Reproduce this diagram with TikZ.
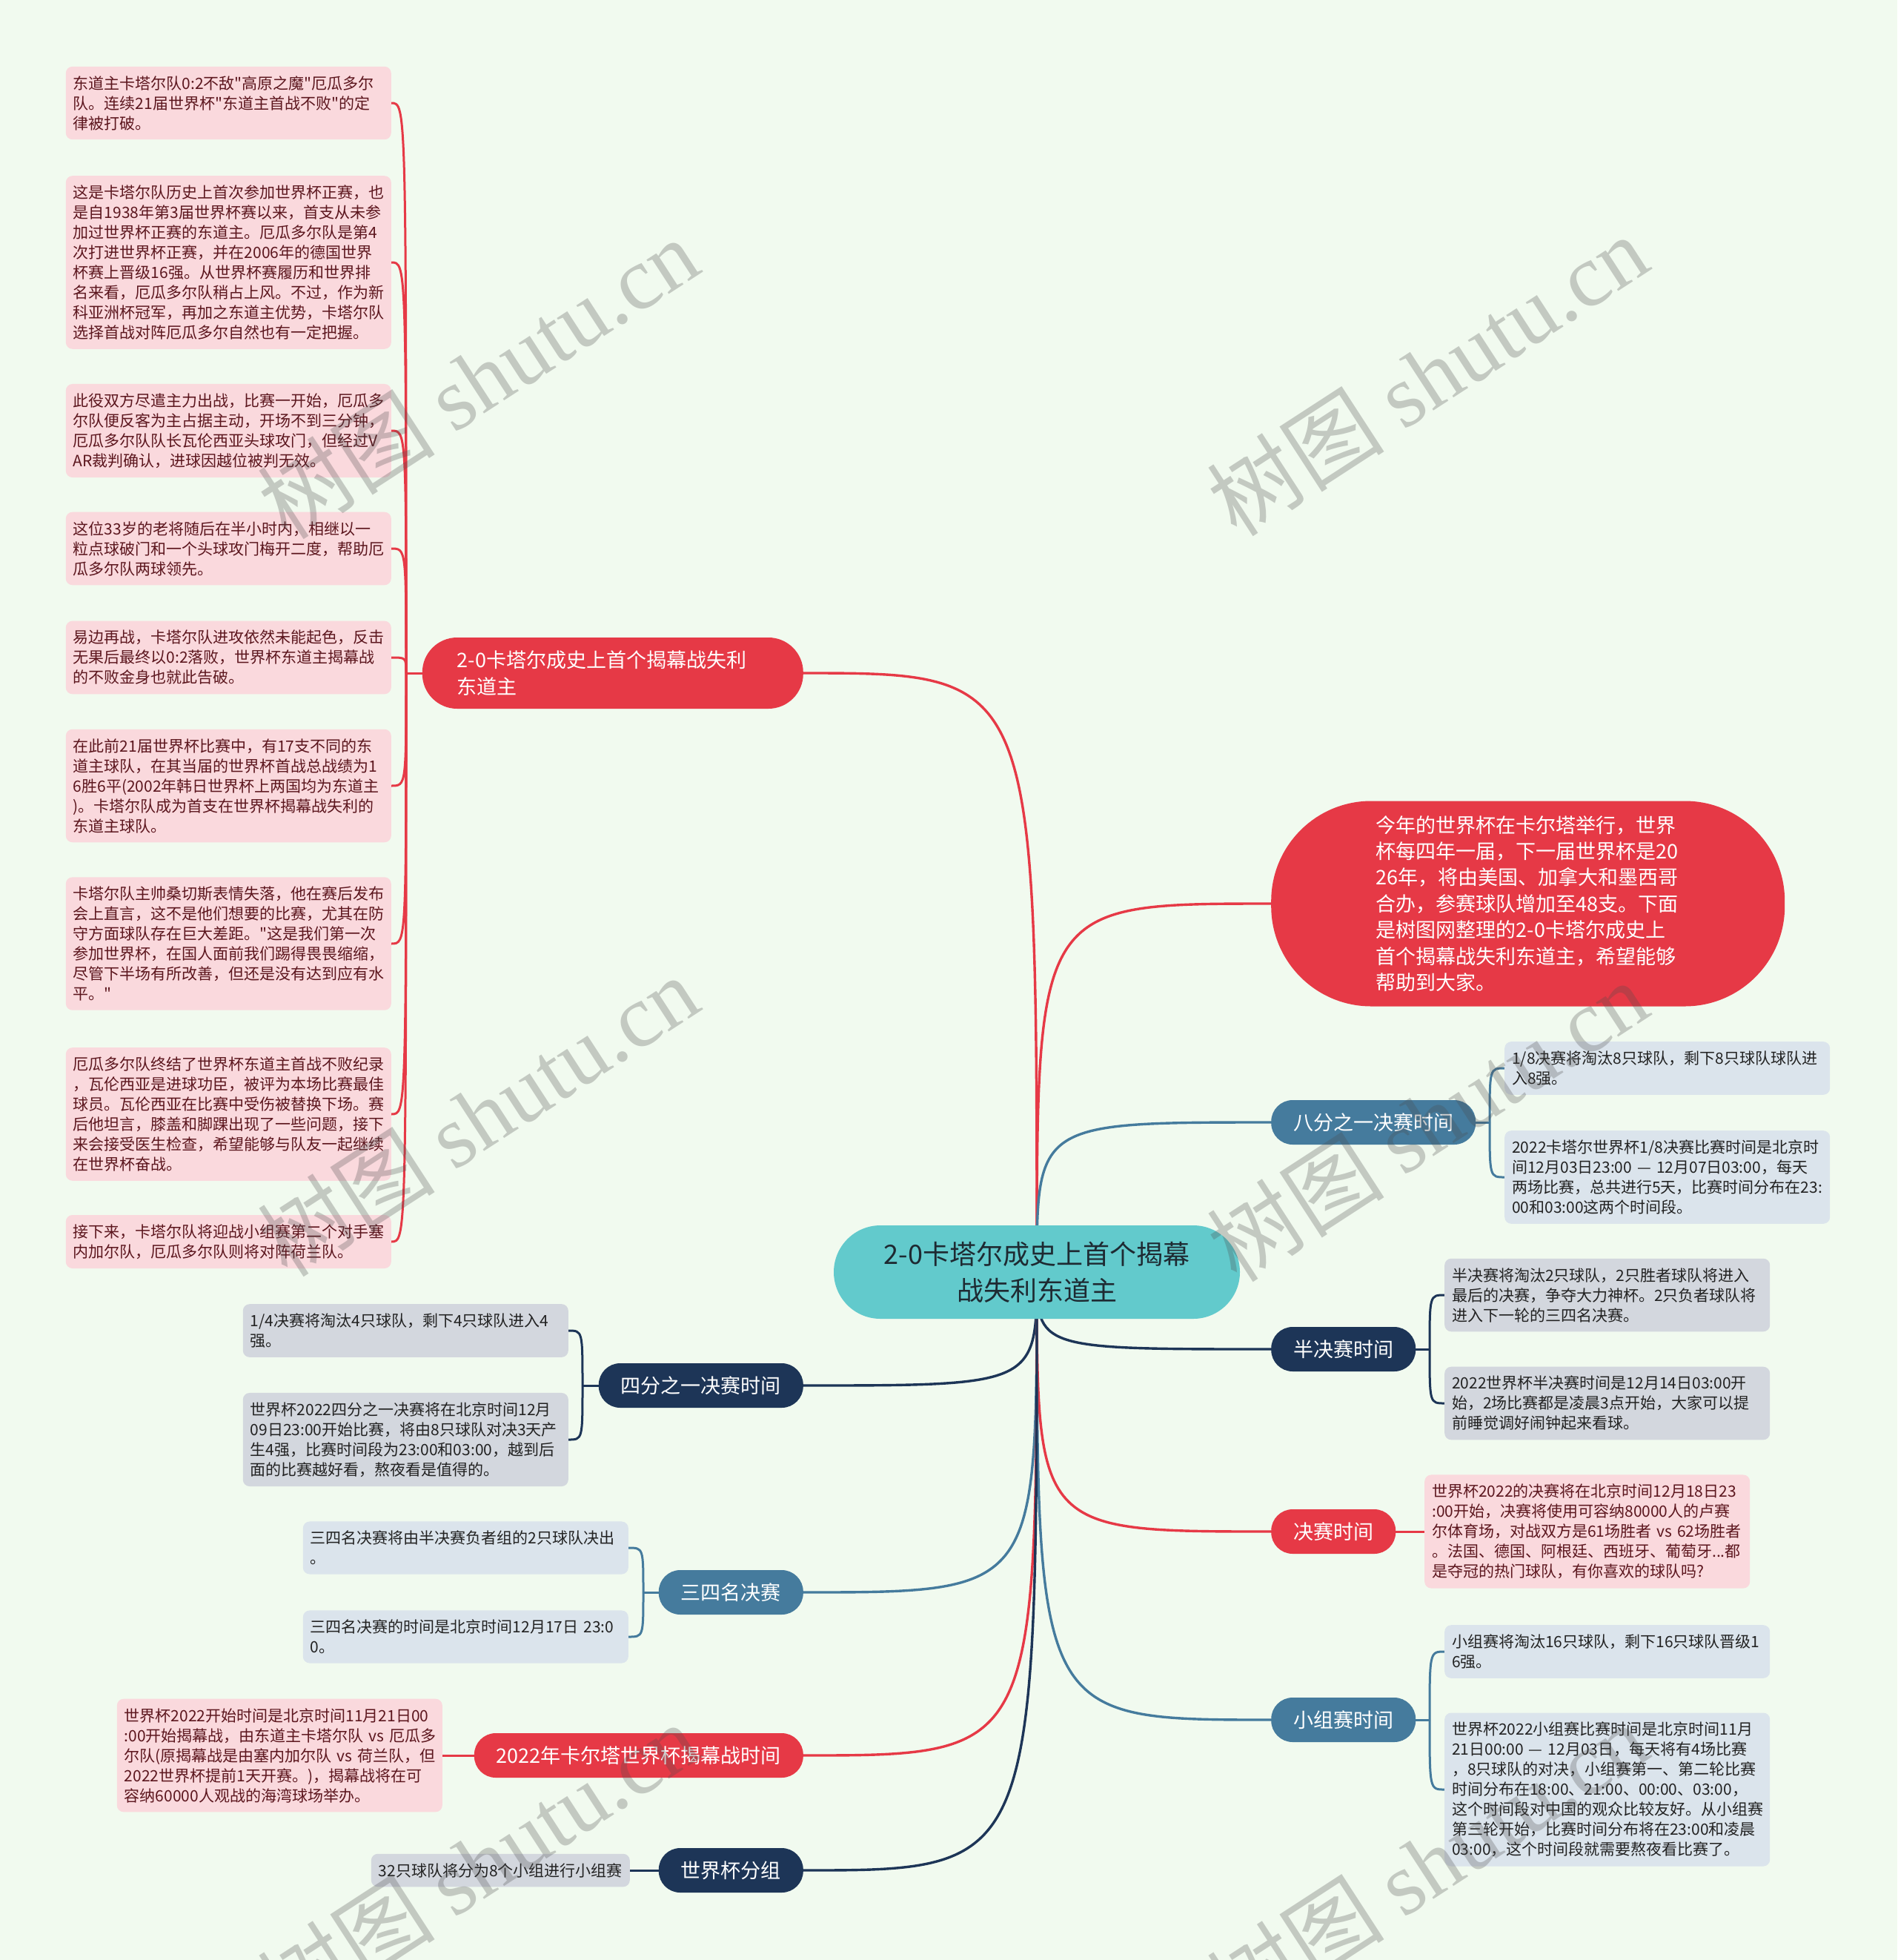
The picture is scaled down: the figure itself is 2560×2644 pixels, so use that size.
\documentclass[tikz,border=0pt]{standalone}
\usepackage{fontspec}
\setmainfont{Noto Sans CJK SC}[Ligatures=TeXOff]
\newfontfamily\wmcjk{Noto Sans CJK SC}
\newfontfamily\wmserif{Liberation Serif}
\usetikzlibrary{calc}
\definecolor{bgc}{RGB}{241,250,239}
\definecolor{cred}{RGB}{230,57,70}
\definecolor{csteel}{RGB}{69,123,157}
\definecolor{cnavy}{RGB}{29,53,87}
\definecolor{cteal}{RGB}{98,202,204}
\definecolor{fpink}{RGB}{250,217,221}
\definecolor{fgray}{RGB}{211,215,222}
\definecolor{fblue}{RGB}{219,228,236}
\definecolor{tpink}{RGB}{92,22,30}
\definecolor{tdark}{RGB}{34,34,34}
\definecolor{troot}{RGB}{30,42,50}
\pgfdeclarelayer{edges}
\pgfdeclarelayer{marks}
\pgfsetlayers{edges,main,marks}
\tikzset{
  leafbase/.style={rounded corners=9pt, inner xsep=10pt, inner ysep=12.5pt, align=left,
    font=\fontsize{21}{27}\selectfont},
  leaf/.style={leafbase, text width=419pt},
  leafpink/.style={leaf, fill=fpink, text=tpink},
  leafgray/.style={leaf, fill=fgray, text=tdark},
  leafblue/.style={leaf, fill=fblue, text=tdark},
  branch/.style={rounded corners=29pt, minimum height=60pt, inner xsep=30pt, inner ysep=0pt,
    text=white, font=\fontsize{27}{35}\selectfont},
  conn/.style={line width=3pt},
  mconn/.style={line width=3.4pt},
  wmark/.style={rotate=33, text=black!70, text opacity=0.28, font=\fontsize{120}{120}\selectfont},
}
\begin{document}
\begin{tikzpicture}[x=1pt,y=-1pt]
\useasboundingbox (0,0) rectangle (2560,2644);
% root
\node[fill=cteal, rounded corners=63pt, minimum height=126pt, minimum width=548pt, align=center,
  text=troot, font=\fontsize{36}{49}\selectfont] (root) at (1399,1716) {2-0卡塔尔成史上首个揭幕\\战失利东道主};
% branch 1
\node[fill=cred, rounded corners=47pt, minimum height=96pt, text width=420pt, inner xsep=47pt, inner ysep=0pt,
  align=left, text=white, font=\fontsize{27}{35.5}\selectfont, anchor=east] (b1) at (1084,908)
  {2-0卡塔尔成史上首个揭幕战失利\\东道主};
\node[leafpink, anchor=east] (l1) at (528,139) {东道主卡塔尔队0:2不敌"高原之魔"厄瓜多尔\\队。连续21届世界杯"东道主首战不败"的定\\律被打破。};
\node[leafpink, anchor=east] (l2) at (528,354) {这是卡塔尔队历史上首次参加世界杯正赛，也\\是自1938年第3届世界杯赛以来，首支从未参\\加过世界杯正赛的东道主。厄瓜多尔队是第4\\次打进世界杯正赛，并在2006年的德国世界\\杯赛上晋级16强。从世界杯赛履历和世界排\\名来看，厄瓜多尔队稍占上风。不过，作为新\\科亚洲杯冠军，再加之东道主优势，卡塔尔队\\选择首战对阵厄瓜多尔自然也有一定把握。};
\node[leafpink, anchor=east] (l3) at (528,581) {此役双方尽遣主力出战，比赛一开始，厄瓜多\\尔队便反客为主占据主动，开场不到三分钟，\\厄瓜多尔队队长瓦伦西亚头球攻门，但经过V\\AR裁判确认，进球因越位被判无效。};
\node[leafpink, anchor=east] (l4) at (528,740) {这位33岁的老将随后在半小时内，相继以一\\粒点球破门和一个头球攻门梅开二度，帮助厄\\瓜多尔队两球领先。};
\node[leafpink, anchor=east] (l5) at (528,887) {易边再战，卡塔尔队进攻依然未能起色，反击\\无果后最终以0:2落败，世界杯东道主揭幕战\\的不败金身也就此告破。};
\node[leafpink, anchor=east] (l6) at (528,1060) {在此前21届世界杯比赛中，有17支不同的东\\道主球队，在其当届的世界杯首战总战绩为1\\6胜6平(2002年韩日世界杯上两国均为东道主\\)。卡塔尔队成为首支在世界杯揭幕战失利的\\东道主球队。};
\node[leafpink, anchor=east] (l7) at (528,1273) {卡塔尔队主帅桑切斯表情失落，他在赛后发布\\会上直言，这不是他们想要的比赛，尤其在防\\守方面球队存在巨大差距。"这是我们第一次\\参加世界杯，在国人面前我们踢得畏畏缩缩，\\尽管下半场有所改善，但还是没有达到应有水\\平。"};
\node[leafpink, anchor=east] (l8) at (528,1503) {厄瓜多尔队终结了世界杯东道主首战不败纪录\\，瓦伦西亚是进球功臣，被评为本场比赛最佳\\球员。瓦伦西亚在比赛中受伤被替换下场。赛\\后他坦言，膝盖和脚踝出现了一些问题，接下\\来会接受医生检查，希望能够与队友一起继续\\在世界杯奋战。};
\node[leafpink, anchor=east] (l9) at (528,1675) {接下来，卡塔尔队将迎战小组赛第二个对手塞\\内加尔队，厄瓜多尔队则将对阵荷兰队。};
% intro
\node[fill=cred, rounded corners=135pt, minimum height=277pt, text width=410pt, inner xsep=141.5pt, inner ysep=0pt,
  align=left, text=white, font=\fontsize{27}{35.4}\selectfont, anchor=west] (intro) at (1715,1219)
  {今年的世界杯在卡尔塔举行，世界\\杯每四年一届，下一届世界杯是20\\26年，将由美国、加拿大和墨西哥\\合办，参赛球队增加至48支。下面\\是树图网整理的2-0卡塔尔成史上\\首个揭幕战失利东道主，希望能够\\帮助到大家。};
% right branches
\node[branch, fill=csteel, anchor=west] (b8) at (1715,1514) {八分之一决赛时间};
\node[leafblue, anchor=west] (b8a) at (2030,1441) {1/8决赛将淘汰8只球队，剩下8只球队球队进\\入8强。};
\node[leafblue, anchor=west] (b8b) at (2030,1588) {2022卡塔尔世界杯1/8决赛比赛时间是北京时\\间12月03日23:00~—~12月07日03:00，每天\\两场比赛，总共进行5天，比赛时间分布在23:\\00和03:00这两个时间段。};
\node[branch, fill=cnavy, anchor=west] (bhalf) at (1715,1820) {半决赛时间};
\node[leafgray, anchor=west] (bha) at (1949,1747) {半决赛将淘汰2只球队，2只胜者球队将进入\\最后的决赛，争夺大力神杯。2只负者球队将\\进入下一轮的三四名决赛。};
\node[leafgray, anchor=west] (bhb) at (1949,1893) {2022世界杯半决赛时间是12月14日03:00开\\始，2场比赛都是凌晨3点开始，大家可以提\\前睡觉调好闹钟起来看球。};
\node[branch, fill=cred, anchor=west] (bfinal) at (1715,2066) {决赛时间};
\node[leafpink, anchor=west] (bfa) at (1922,2066) {世界杯2022的决赛将在北京时间12月18日23\\:00开始，决赛将使用可容纳80000人的卢赛\\尔体育场，对战双方是61场胜者~vs~62场胜者\\。法国、德国、阿根廷、西班牙、葡萄牙...都\\是夺冠的热门球队，有你喜欢的球队吗?};
\node[branch, fill=csteel, anchor=west] (bsmall) at (1715,2320) {小组赛时间};
\node[leafblue, anchor=west] (bsa) at (1949,2228) {小组赛将淘汰16只球队，剩下16只球队晋级1\\6强。};
\node[leafblue, anchor=west] (bsb) at (1949,2414) {世界杯2022小组赛比赛时间是北京时间11月\\21日00:00~—~12月03日，每天将有4场比赛\\，8只球队的对决，小组赛第一、第二轮比赛\\时间分布在18:00、21:00、00:00、03:00，\\这个时间段对中国的观众比较友好。从小组赛\\第三轮开始，比赛时间分布将在23:00和凌晨\\03:00，这个时间段就需要熬夜看比赛了。};
% left lower branches
\node[branch, fill=cnavy, anchor=east] (bq) at (1084,1869) {四分之一决赛时间};
\node[leafgray, anchor=east] (bqa) at (767,1795) {1/4决赛将淘汰4只球队，剩下4只球队进入4\\强。};
\node[leafgray, anchor=east] (bqb) at (767,1942) {世界杯2022四分之一决赛将在北京时间12月\\09日23:00开始比赛，将由8只球队对决3天产\\生4强，比赛时间段为23:00和03:00，越到后\\面的比赛越好看，熬夜看是值得的。};
\node[branch, fill=csteel, anchor=east] (b34) at (1084,2148) {三四名决赛};
\node[leafblue, anchor=east] (b34a) at (848,2088) {三四名决赛将由半决赛负者组的2只球队决出\\。};
\node[leafblue, anchor=east] (b34b) at (848,2208) {三四名决赛的时间是北京时间12月17日~23:0\\0。};
\node[branch, fill=cred, anchor=east] (bopen) at (1084,2368) {2022年卡尔塔世界杯揭幕战时间};
\node[leafpink, anchor=east] (boa) at (597,2368) {世界杯2022开始时间是北京时间11月21日00\\:00开始揭幕战，由东道主卡塔尔队~vs~厄瓜多\\尔队(原揭幕战是由塞内加尔队~vs~荷兰队，但\\2022世界杯提前1天开赛。)，揭幕战将在可\\容纳60000人观战的海湾球场举办。};
\node[branch, fill=cnavy, anchor=east] (bgroup) at (1084,2523) {世界杯分组};
\node[leafbase, fill=fgray, text=tdark, anchor=east] (bga) at (850,2523) {32只球队将分为8个小组进行小组赛};
% junctions
\coordinate (j1) at (548,908);
\coordinate (j8) at (2010,1514);
\coordinate (jh) at (1929,1820);
\coordinate (js) at (1929,2320);
\coordinate (jq) at (786,1869);
\coordinate (j34) at (868,2148);
\begin{pgfonlayer}{edges}
\fill[bgc] (0,0) rectangle (2560,2644);
% root connectors
\draw[mconn, cred] (root.center) .. controls (root.center |- b1.east) .. (b1.east);
\draw[mconn, cred] (root.center) .. controls (root.center |- intro.west) .. (intro.west);
\draw[mconn, csteel] (root.center) .. controls (root.center |- b8.west) .. (b8.west);
\draw[mconn, cnavy] (root.center) .. controls (root.center |- bhalf.west) .. (bhalf.west);
\draw[mconn, cred] (root.center) .. controls (root.center |- bfinal.west) .. (bfinal.west);
\draw[mconn, csteel] (root.center) .. controls (root.center |- bsmall.west) .. (bsmall.west);
\draw[mconn, cnavy] (root.center) .. controls (root.center |- bq.east) .. (bq.east);
\draw[mconn, csteel] (root.center) .. controls (root.center |- b34.east) .. (b34.east);
\draw[mconn, cred] (root.center) .. controls (root.center |- bopen.east) .. (bopen.east);
\draw[mconn, cnavy] (root.center) .. controls (root.center |- bgroup.east) .. (bgroup.east);
% branch 1 leaves
\draw[conn, cred] (b1.west) -- (j1);
\foreach \n in {l1,l2,l3,l4,l5,l6,l7,l8,l9}
  \draw[conn, cred] (j1) .. controls (j1 |- \n.east) .. (\n.east);
% right groups
\draw[conn, csteel] (b8.east) -- (j8);
\foreach \n in {b8a,b8b}
  \draw[conn, csteel] (j8) .. controls (j8 |- \n.west) .. (\n.west);
\draw[conn, cnavy] (bhalf.east) -- (jh);
\foreach \n in {bha,bhb}
  \draw[conn, cnavy] (jh) .. controls (jh |- \n.west) .. (\n.west);
\draw[conn, cred] (bfinal.east) -- (bfa.west);
\draw[conn, csteel] (bsmall.east) -- (js);
\foreach \n in {bsa,bsb}
  \draw[conn, csteel] (js) .. controls (js |- \n.west) .. (\n.west);
% left lower groups
\draw[conn, cnavy] (bq.west) -- (jq);
\foreach \n in {bqa,bqb}
  \draw[conn, cnavy] (jq) .. controls (jq |- \n.east) .. (\n.east);
\draw[conn, csteel] (b34.west) -- (j34);
\foreach \n in {b34a,b34b}
  \draw[conn, csteel] (j34) .. controls (j34 |- \n.east) .. (\n.east);
\draw[conn, cred] (bopen.west) -- (boa.east);
\draw[conn, cnavy] (bgroup.west) -- (bga.east);
\end{pgfonlayer}
% watermarks
\begin{pgfonlayer}{marks}
\node[wmark] (w1) at (645,510) {\wmcjk 树图 \wmserif shutu.cn};
\node[wmark] (w2) at (1926,506) {\wmcjk 树图 \wmserif shutu.cn};
\node[wmark] (w3) at (645,1505) {\wmcjk 树图 \wmserif shutu.cn};
\node[wmark] (w4) at (1926,1512) {\wmcjk 树图 \wmserif shutu.cn};
\node[wmark] (w5) at (645,2513) {\wmcjk 树图 \wmserif shutu.cn};
\node[wmark] (w6) at (1926,2513) {\wmcjk 树图 \wmserif shutu.cn};
\end{pgfonlayer}
\end{tikzpicture}
\end{document}
